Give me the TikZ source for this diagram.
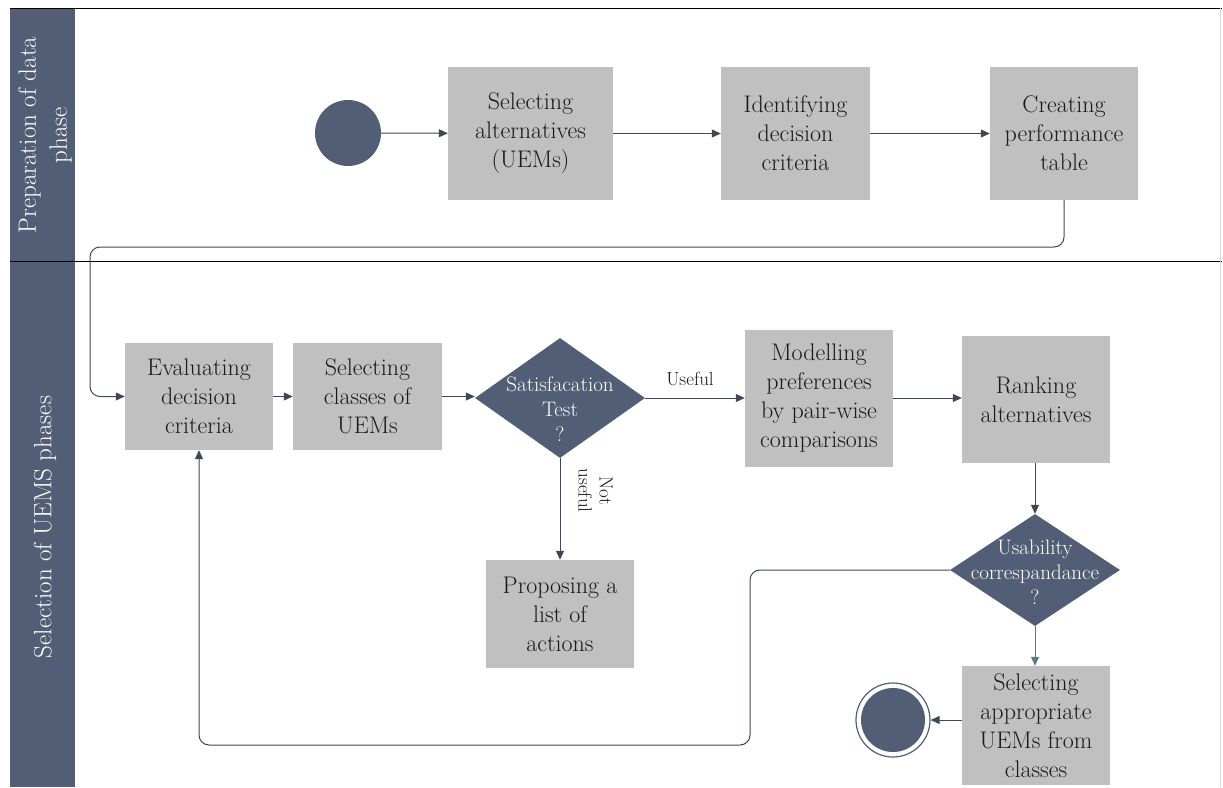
\documentclass[tikz,border=0pt]{standalone}
\usetikzlibrary{shapes.geometric,arrows.meta}
\definecolor{dark}{RGB}{82,94,117}
\definecolor{boxgray}{RGB}{192,192,192}
\definecolor{linec}{RGB}{64,71,85}
\definecolor{tealc}{RGB}{90,122,133}
\tikzset{
  procbox/.style={rectangle, fill=boxgray, inner sep=2pt, align=center, text=black!90,
    font=\fontsize{24}{29}\selectfont},
  decision/.style={diamond, fill=dark, inner sep=0pt},
  dlabel/.style={text=white, align=center, font=\fontsize{21}{25}\selectfont},
  arr/.style={draw=linec, line width=1pt, -{Triangle[length=9pt,width=8pt]}},
  lanetext/.style={text=white, align=center, rotate=90, font=\fontsize{25}{31}\selectfont},
  small/.style={font=\fontsize{19}{21}\selectfont, text=black!90, align=center}
}
\begin{document}
\begin{tikzpicture}[x=1pt,y=-1pt]
\useasboundingbox (0,0) rectangle (1223,787);
% lanes
\fill[dark] (10,8) rectangle (75,787);
\draw[black, line width=1pt] (10,8) -- (1222,8);
\draw[black, line width=1pt] (10,261) -- (1222,261);
\draw[black!15, line width=0.6pt] (1220,8) -- (1220,787);
\node[lanetext] (lane1) at (45,135) {Preparation of data\\phase};
\node[lanetext] (lane2) at (45,527) {Selection of UEMS phases};
% nodes
\node[circle, fill=dark, minimum size=66pt, inner sep=0pt] (start) at (348,133) {};
\node[procbox, minimum width=165pt, minimum height=133pt] (b1) at (530.5,133.5) {Selecting\\alternatives\\(UEMs)};
\node[procbox, minimum width=149pt, minimum height=133pt] (b2) at (795.5,133.5) {Identifying\\decision\\criteria};
\node[procbox, minimum width=148pt, minimum height=133pt] (b3) at (1064,133.5) {Creating\\performance\\table};
\node[procbox, minimum width=148pt, minimum height=107pt] (b4) at (199,396.5) {Evaluating\\decision\\criteria};
\node[procbox, minimum width=149pt, minimum height=107pt] (b5) at (367.5,396.5) {Selecting\\classes of\\UEMs};
\node[decision, minimum width=170pt, minimum height=120pt,
  label={[dlabel, yshift=-11pt]center:Satisfacation\\Test\\?}] (d1) at (560,398) {};
\node[procbox, minimum width=148pt, minimum height=137pt] (b6) at (819,398.5) {Modelling\\preferences\\by pair-wise\\comparisons};
\node[procbox, minimum width=148pt, minimum height=127pt] (b7) at (1036,399.5) {Ranking\\alternatives};
\node[decision, minimum width=170pt, minimum height=112pt,
  label={[dlabel, yshift=-2pt]center:Usability\\correspandance\\?}] (d2) at (1035,570) {};
\node[procbox, minimum width=148pt, minimum height=108pt] (b8) at (560,614) {Proposing a\\list of\\actions};
\node[procbox, minimum width=148pt, minimum height=119pt] (b9) at (1036,725.5) {Selecting\\appropriate\\UEMs from\\classes};
\node[circle, minimum size=74pt, inner sep=0pt, draw=dark, line width=1.2pt,
  path picture={\fill[dark] (path picture bounding box.center) circle (32pt);}] (end) at (893,720) {};
% connectors
\draw[arr] (start) -- (b1);
\draw[arr] (b1) -- (b2);
\draw[arr] (b2) -- (b3);
\draw[arr, rounded corners=10pt] (b3.south) |- (90,247) |- (b4.west);
\draw[arr] (b4) -- (b5);
\draw[arr] (b5) -- (b5.east -| d1.west);
\draw[arr] (d1.east) -- (d1.east -| b6.west) node[small, pos=0.45, above=8pt] (useful) {Useful};
\draw[arr] (d1.south) -- (b8.north) coordinate[pos=0.32] (nu);
\node[small, rotate=-90, anchor=south] (notuseful) at ([xshift=15pt]nu) {Not\\useful};
\draw[arr] (b6.east |- d1.east) -- (d1.east -| b7.west);
\draw[arr] (b7.south -| d2.north) -- (d2.north);
\draw[arr, draw=tealc] (d2.south) -- (d2.south |- b9.north);
\draw[arr, rounded corners=10pt] (d2.west) -| (750,745) -| (b4.south);
\draw[arr] (b9.west |- end.east) -- (end.east);
\end{tikzpicture}
\end{document}
